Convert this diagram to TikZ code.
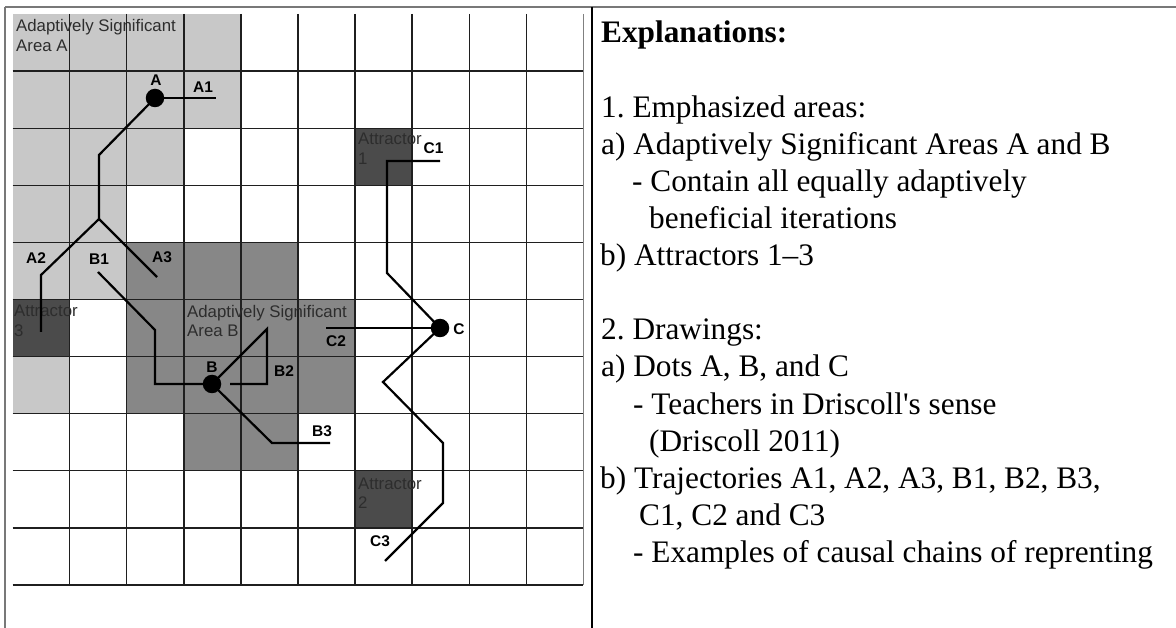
\documentclass[tikz,border=0pt]{standalone}
\usepackage{fontspec}
\setmainfont{Liberation Serif}
\newfontfamily\gridfont{Liberation Sans}
\definecolor{areaA}{RGB}{200,200,200}
\definecolor{areaB}{RGB}{135,135,135}
\definecolor{attr}{RGB}{75,75,75}
\definecolor{framegray}{RGB}{120,120,120}
\definecolor{celltext}{RGB}{45,45,45}
\frenchspacing
\begin{document}
\begin{tikzpicture}[x=1pt,y=-1pt,
  traj/.style={line width=2.2pt, black, line join=miter},
  dot/.style={circle, fill=black, minimum size=18.5pt, inner sep=0pt},
  lbl/.style={font=\gridfont\bfseries\fontsize{15.5}{19}\selectfont, inner sep=0pt, text=black},
  celltxt/.style={font=\gridfont\fontsize{16.8}{19.5}\selectfont, inner sep=0pt, anchor=base west, text=celltext},
  expl/.style={font=\fontsize{31.3}{37}\selectfont, inner sep=0pt, anchor=base west},
  gridline/.style={line width=1.3pt, black!88}]
\useasboundingbox (0,0) rectangle (1176,628);
\fill[white] (0,0) rectangle (1176,628);
% cells and grid
\begin{scope}[shift={(12.7,14)}, x=57.06pt, y=-57.1pt]
  \foreach \c/\r in {0/0,1/0,2/0,3/0,0/1,1/1,2/1,3/1,0/2,1/2,2/2,0/3,1/3,0/4,1/4,0/6}
    \fill[areaA] (\c,\r) rectangle ++(1,1);
  \foreach \c/\r in {2/4,3/4,4/4,2/5,3/5,4/5,5/5,2/6,3/6,4/6,5/6,3/7,4/7}
    \fill[areaB] (\c,\r) rectangle ++(1,1);
  \foreach \c/\r in {6/2,6/8,0/5}
    \fill[attr] (\c,\r) rectangle ++(1,1);
  \foreach \i in {1,...,9} \draw[gridline] (\i,0) -- (\i,10);
  \foreach \j in {1,...,10} \draw[gridline] (0,\j) -- (10,\j);
  \draw[line width=1.3pt, gray] (10,0) -- (10,10);
\end{scope}
% frame
\draw[framegray, line width=2pt] (5,7) -- (1176,7);
\draw[framegray, line width=2pt] (5,7) -- (5,628);
\draw[black, line width=1.3pt] (592,7) -- (592,628);
% cell texts
\node[celltxt] (tA1) at (16,32) {Adaptively Significant};
\node[celltxt] (tA2) at (16,51.5) {Area A};
\node[celltxt] (tB1) at (187,317.5) {Adaptively Significant};
\node[celltxt] (tB2) at (187,337) {Area B};
\node[celltxt] (t1a) at (358,145) {Attractor};
\node[celltxt] (t1b) at (358,164.5) {1};
\node[celltxt] (t2a) at (358,489) {Attractor};
\node[celltxt] (t2b) at (358,508.5) {2};
\node[celltxt] (t3a) at (14,317) {Attractor};
\node[celltxt] (t3b) at (14,336.5) {3};
% dots
\node[dot] (A) at (155,98) {};
\node[dot] (B) at (212,384) {};
\node[dot] (C) at (440,328) {};
% trajectory points
\coordinate (A1e) at (216,98);
\coordinate (Ak) at (99,155);
\coordinate (fork) at (99,219);
\coordinate (A2k) at (41,275);
\coordinate (A2e) at (41,332);
\coordinate (A3e) at (157,277);
\coordinate (B1s) at (98,272);
\coordinate (B1k1) at (155,330);
\coordinate (B1k2) at (155,384);
\coordinate (B2k1) at (267,329);
\coordinate (B2k2) at (267,384);
\coordinate (B2e) at (230,384);
\coordinate (B3k) at (272,443);
\coordinate (B3e) at (330,443);
\coordinate (C1k1) at (387,273);
\coordinate (C1k2) at (387,161);
\coordinate (C1e) at (440,161);
\coordinate (C2e) at (326,328);
\coordinate (C3k1) at (383,382);
\coordinate (C3k2) at (443,443);
\coordinate (C3k3) at (443,503);
\coordinate (C3e) at (385,561);
% trajectories
\draw[traj] (A.center) -- (A1e);
\draw[traj] (A.center) -- (Ak) -- (fork) -- (A2k) -- (A2e);
\draw[traj] (fork) -- (A3e);
\draw[traj] (B1s) -- (B1k1) -- (B1k2) -- (B.center);
\draw[traj] (B.center) -- (B2k1) -- (B2k2) -- (B2e);
\draw[traj] (B.center) -- (B3k) -- (B3e);
\draw[traj] (C.center) -- (C1k1) -- (C1k2) -- (C1e);
\draw[traj] (C.center) -- (C2e);
\draw[traj] (C.center) -- (C3k1) -- (C3k2) -- (C3k3) -- (C3e);
% labels
\node[lbl] (lA) at (156,80) {A};
\node[lbl] (lA1) at (203,87) {A1};
\node[lbl] (lA2) at (36,258) {A2};
\node[lbl] (lB1) at (99,259) {B1};
\node[lbl] (lA3) at (162,257) {A3};
\node[lbl] (lB) at (212,367) {B};
\node[lbl] (lB2) at (284,371) {B2};
\node[lbl] (lB3) at (322,431) {B3};
\node[lbl] (lC) at (459,329) {C};
\node[lbl] (lC1) at (433.5,148.5) {C1};
\node[lbl] (lC2) at (336,341.5) {C2};
\node[lbl] (lC3) at (380,541) {C3};
% explanations
\node[expl] (e0) at (601,43) {\bfseries Explanations:};
\node[expl] (e2) at (601,117.2) {1. Emphasized areas:};
\node[expl] (e3) at (601,154.3) {a) Adaptively Significant Areas A and B};
\node[expl] (e4) at (632,191.4) {- Contain all equally adaptively};
\node[expl] (e5) at (649,228.5) {beneficial iterations};
\node[expl] (e6) at (600,265.6) {b) Attractors 1--3};
\node[expl] (e8) at (601,339.8) {2. Drawings:};
\node[expl] (e9) at (601,376.9) {a) Dots A, B, and C};
\node[expl] (e10) at (633,414) {- Teachers in Driscoll\textquotesingle s sense};
\node[expl] (e11) at (649,451.1) {(Driscoll 2011)};
\node[expl] (e12) at (600,488.2) {b) Trajectories A1, A2, A3, B1, B2, B3,};
\node[expl] (e13) at (639,525.3) {C1, C2 and C3};
\node[expl] (e14) at (633,562.4) {- Examples of causal chains of reprenting};
\end{tikzpicture}
\end{document}
